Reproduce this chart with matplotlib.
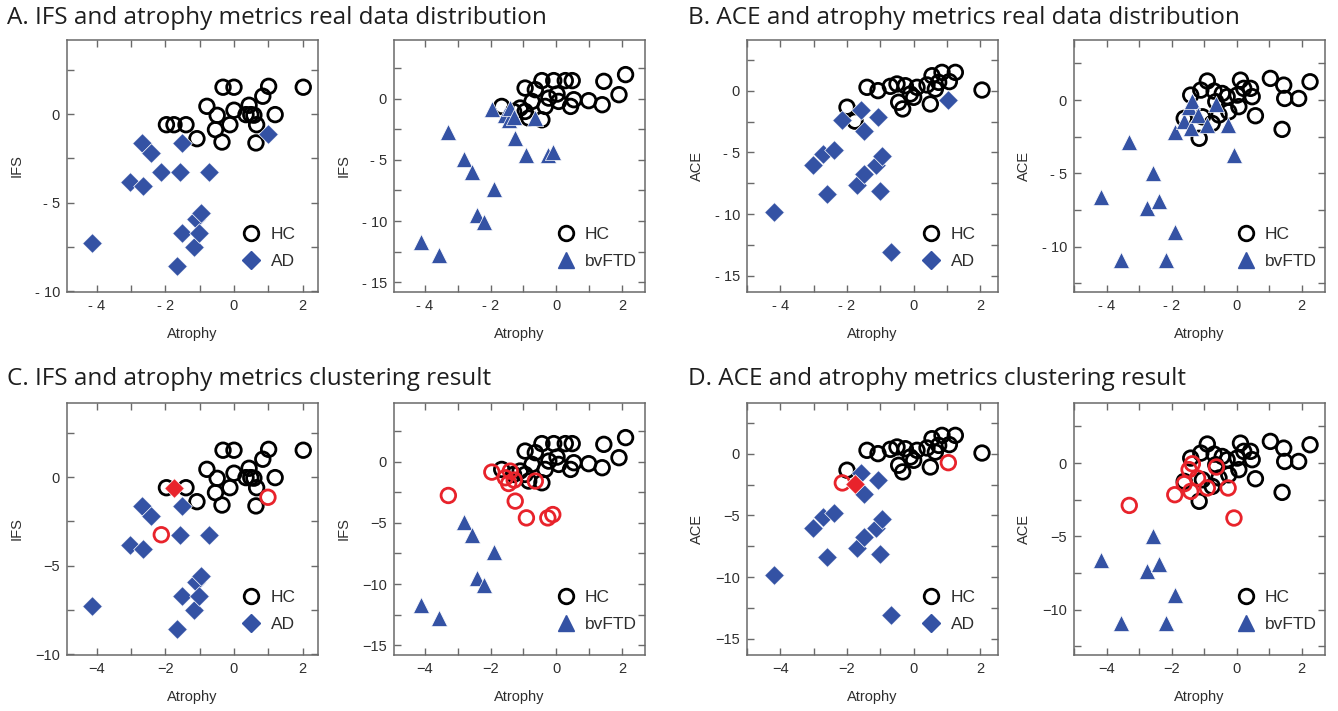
import numpy as np
import matplotlib
matplotlib.use('Agg')
import matplotlib.pyplot as plt
from matplotlib.ticker import FuncFormatter, MultipleLocator
from matplotlib.lines import Line2D

# ---- IFS vs atrophy, HC / AD ----
hc_ifs_ad_atr = [-1.97, -1.75, -1.40, -1.08, -0.79, -0.49, -0.54, -0.35, -0.32, 0.00, 0.00,
                 -0.12, 0.35, 0.44, 0.49, 0.58, 0.66, 0.64, 0.84, 1.01, 1.20, 2.02]
hc_ifs_ad_val = [-0.59, -0.59, -0.59, -1.38, 0.45, -0.06, -0.87, -1.57, 1.53, 1.53, 0.23,
                 -0.59, -0.02, 0.51, -0.02, -0.05, -0.59, -1.62, 1.02, 1.58, -0.02, 1.53]
ad_ifs_atr = [-4.14, -3.03, -2.68, -2.64, -2.41, -2.12, -1.67, -1.58, -1.53, -1.53,
              -1.18, -1.10, -1.03, -0.96, -0.72, 0.99]
ad_ifs_val = [-7.26, -3.81, -1.64, -4.06, -2.21, -3.25, -8.58, -3.25, -1.64, -6.70,
              -7.53, -5.92, -6.70, -5.60, -3.25, -1.13]
hc_ifs_ad_wrong = [1]
ad_ifs_wrong = [5, 15]

# ---- IFS vs atrophy, HC / bvFTD ----
hc_ifs_ftd_atr = [2.10, 1.44, 1.90, 1.39, 0.98, 0.53, 0.48, 0.27, -0.08, -0.44, -0.95, -0.64,
                  0.02, -0.23, 0.07, 0.43, -0.34, -0.74, -1.10, -1.66, -0.44, -0.84, -0.95, -1.30]
hc_ifs_ftd_val = [1.97, 1.42, 0.33, -0.49, -0.16, -0.08, 1.48, 1.48, 1.48, 1.48, 0.87, 0.74,
                  0.38, 0.05, -0.22, -0.63, -0.63, -0.22, -0.76, -0.63, -1.72, -1.58, -1.04, -1.04]
ftd_ifs_atr = [-4.11, -3.55, -3.28, -2.79, -2.57, -2.42, -2.19, -1.96, -1.89, -1.55,
               -1.45, -1.40, -1.28, -1.25, -0.91, -0.64, -0.26, -0.11]
ftd_ifs_val = [-11.69, -12.79, -2.76, -4.95, -5.96, -9.51, -10.05, -0.85, -7.40, -1.31,
               -1.78, -0.77, -1.50, -3.22, -4.59, -1.58, -4.59, -4.32]
hc_ifs_ftd_wrong = []
ftd_ifs_wrong = [2, 7, 9, 10, 11, 12, 13, 14, 15, 16, 17]

# ---- ACE vs atrophy, HC / AD ----
hc_ace_ad_atr = [-2.00, -1.76, -1.40, -1.07, -0.70, -0.50, -0.25, -0.45, -0.33, -0.10, 0.00,
                 0.10, 0.40, 0.50, 0.55, 0.65, 0.85, 1.07, 1.25, 0.75, 2.05]
hc_ace_ad_val = [-1.34, -2.47, 0.27, 0.00, 0.35, 0.54, 0.40, -0.94, -1.48, -0.27, -0.54,
                 0.27, 0.46, -1.08, 1.21, 0.13, 1.48, 0.73, 1.48, 0.67, 0.05]
ad_ace_atr = [-4.18, -3.03, -2.72, -2.59, -2.39, -2.14, -1.69, -1.59, -1.49, -1.49,
              -1.14, -1.06, -1.02, -0.95, -0.67, 1.04]
ad_ace_val = [-9.81, -6.05, -5.11, -8.33, -4.84, -2.37, -7.66, -1.53, -6.72, -3.23,
              -6.05, -2.10, -8.15, -5.32, -13.04, -0.73]
hc_ace_ad_wrong = [1]
ad_ace_wrong = [5, 15]

# ---- ACE vs atrophy, HC / bvFTD ----
hc_ace_ftd_atr = [-0.90, 0.12, 1.04, 1.45, 2.26, 1.48, 1.91, 1.40, 0.58, 0.48, 0.43, 0.22, 0.07,
                  0.02, -0.29, -0.44, -0.24, -0.69, -1.10, -1.41, -0.64, -0.54, -0.75, -1.15,
                  -1.61, -1.05]
hc_ace_ftd_val = [1.30, 1.36, 1.48, 1.02, 1.25, 0.11, 0.11, -2.00, -1.07, 0.23, 0.80, 0.80, -0.45,
                  0.34, 0.23, 0.45, -0.80, 0.61, 0.68, 0.34, -0.11, -1.02, -1.59, -2.61,
                  -1.25, -1.14]
ftd_ace_atr = [-4.16, -3.55, -3.30, -2.76, -2.58, -2.40, -2.17, -1.89, -1.90, -1.61,
               -1.46, -1.36, -1.41, -1.20, -0.90, -0.62, -0.26, -0.08]
ftd_ace_val = [-6.59, -10.91, -2.89, -7.34, -5.00, -6.89, -10.91, -8.98, -2.16, -1.41,
               -0.45, -0.05, -1.93, -1.02, -1.70, -0.27, -1.70, -3.75]
hc_ace_ftd_wrong = []
ftd_ace_wrong = [2, 8, 9, 10, 11, 12, 13, 14, 15, 16, 17]

titles = ['A. IFS and atrophy metrics real data distribution',
          'B. ACE and atrophy metrics real data distribution',
          'C. IFS and atrophy metrics clustering result',
          'D. ACE and atrophy metrics clustering result']

BLUE = '#3452a4'
RED = '#e8232b'
FRAME = '#6a6a6a'
TXT = '#2e2e2e'

plt.rcParams['font.family'] = ['Liberation Sans', 'DejaVu Sans']

fig = plt.figure(figsize=(13.38, 7.11), dpi=100)

W = 1338.0
H = 711.0
lefts = [67, 394, 747, 1074]
tops = [40, 403]
pw, ph = 251, 252

panels = [
    (hc_ifs_ad_atr, hc_ifs_ad_val, ad_ifs_atr, ad_ifs_val, hc_ifs_ad_wrong, ad_ifs_wrong,
     'D', 'AD', 'IFS', (-4.87, 2.45), (-10.05, 4.2), [-10, -5, 0]),
    (hc_ifs_ftd_atr, hc_ifs_ftd_val, ftd_ifs_atr, ftd_ifs_val, hc_ifs_ftd_wrong, ftd_ifs_wrong,
     '^', 'bvFTD', 'IFS', (-4.93, 2.69), (-15.8, 4.8), [-15, -10, -5, 0]),
    (hc_ace_ad_atr, hc_ace_ad_val, ad_ace_atr, ad_ace_val, hc_ace_ad_wrong, ad_ace_wrong,
     'D', 'AD', 'ACE', (-5.0, 2.53), (-16.3, 4.1), [-15, -10, -5, 0]),
    (hc_ace_ftd_atr, hc_ace_ftd_val, ftd_ace_atr, ftd_ace_val, hc_ace_ftd_wrong, ftd_ace_wrong,
     '^', 'bvFTD', 'ACE', (-5.0, 2.72), (-13.1, 4.1), [-10, -5, 0]),
]


def hyph(v, pos):
    if v < 0:
        return '- %g' % abs(v)
    return '%g' % v


def style_axes(ax, xl, yl, yticks, ylab, top_row):
    ax.set_xlim(xl)
    ax.set_ylim(yl)
    ax.set_xticks([-4, -2, 0, 2])
    ax.set_yticks(yticks)
    ax.xaxis.set_minor_locator(MultipleLocator(1))
    ax.yaxis.set_minor_locator(MultipleLocator(2.5))
    ax.tick_params(which='both', direction='in', top=True, right=True, length=5,
                   width=1, color=FRAME, labelsize=10.5, labelcolor=TXT, pad=5)
    for s in ax.spines.values():
        s.set_color(FRAME)
        s.set_linewidth(1.1)
    if top_row:
        ax.xaxis.set_major_formatter(FuncFormatter(hyph))
        ax.yaxis.set_major_formatter(FuncFormatter(hyph))
    ax.set_xlabel('Atrophy', fontsize=10.5, color=TXT, labelpad=10)
    ax.set_ylabel(ylab, fontsize=10.5, color=TXT, labelpad=8)


for row in range(2):
    for col in range(4):
        (hx, hy, px, py, hw, pwr, mk, lab, ylab, xl, yl, yt) = panels[col]
        ax = fig.add_axes([lefts[col] / W, 1 - (tops[row] + ph) / H, pw / W, ph / H])
        hx = np.array(hx); hy = np.array(hy)
        px = np.array(px); py = np.array(py)
        msz = 135 if mk == '^' else 100
        if row == 0:
            ax.scatter(hx, hy, s=110, facecolors='none', edgecolors='black', linewidths=2.0, zorder=3)
            ax.scatter(px, py, s=msz, marker=mk, color=BLUE, edgecolors='white', linewidths=0.5, zorder=4)
        else:
            hmask = np.zeros(len(hx), bool); hmask[hw] = True
            pmask = np.zeros(len(px), bool); pmask[pwr] = True
            ax.scatter(hx[~hmask], hy[~hmask], s=110, facecolors='none', edgecolors='black',
                       linewidths=2.0, zorder=3)
            ax.scatter(px[pmask], py[pmask], s=110, facecolors='none', edgecolors=RED,
                       linewidths=2.0, zorder=3)
            ax.scatter(px[~pmask], py[~pmask], s=msz, marker=mk, color=BLUE, edgecolors='white',
                       linewidths=0.5, zorder=4)
            ax.scatter(hx[hmask], hy[hmask], s=msz, marker=mk, color=RED, edgecolors='white',
                       linewidths=0.5, zorder=4)
        style_axes(ax, xl, yl, yt, ylab, row == 0)
        handles = [Line2D([], [], ls='none', marker='o', ms=10.5, mfc='none', mec='black', mew=2.0),
                   Line2D([], [], ls='none', marker=mk, ms=9.5 if mk == 'D' else 11, color=BLUE)]
        lx = 0.70 if mk == 'D' else 0.65
        ax.legend(handles, ['HC', lab], loc='lower left', bbox_to_anchor=(lx, 0.09),
                  frameon=False, fontsize=12.5, handlelength=1.0, handletextpad=0.6,
                  labelspacing=0.7, borderpad=0, borderaxespad=0, labelcolor=TXT)

title_font = ['Open Sans', 'DejaVu Sans']
tsize = 17.5
fig.text(7 / W, 1 - 18 / H, titles[0], fontsize=tsize, family=title_font, va='center', color='#1e1e1e')
fig.text(688 / W, 1 - 18 / H, titles[1], fontsize=tsize, family=title_font, va='center', color='#1e1e1e')
fig.text(7 / W, 1 - 379 / H, titles[2], fontsize=tsize, family=title_font, va='center', color='#1e1e1e')
fig.text(688 / W, 1 - 379 / H, titles[3], fontsize=tsize, family=title_font, va='center', color='#1e1e1e')

fig.savefig('out.png', dpi=100)
